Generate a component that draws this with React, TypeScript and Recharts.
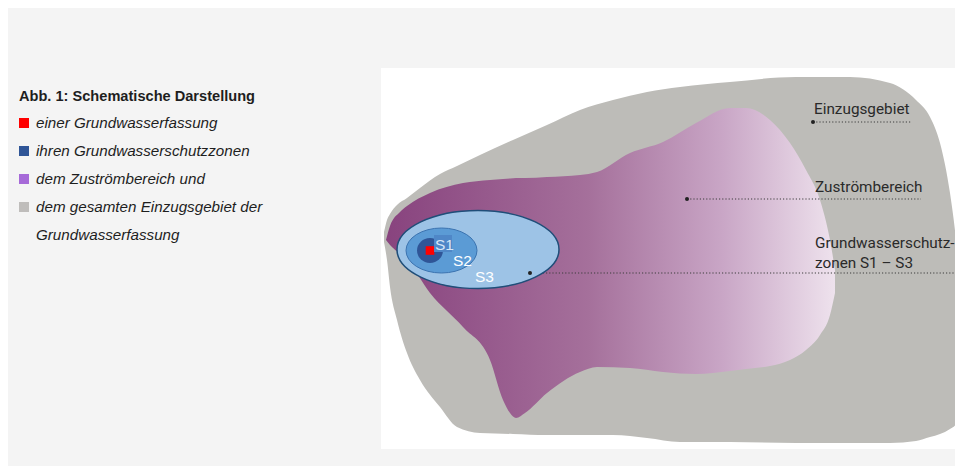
import React from "react";
import {
  ComposedChart,
  Area,
  Scatter,
  XAxis,
  YAxis,
  ReferenceLine,
  ReferenceDot,
} from "recharts";

// schematic units, 1 unit = 10px in the panel, y grows downwards
const UNIT = 10;

// Einzugsgebiet (grey outline)
const einzugX = [0.3, 0.6, 0.9, 1.6, 2.6, 3.9, 5.9, 7.6, 9.9, 13.2, 16.6, 19.9, 23.2, 26.6, 29.9, 34.9, 41.5, 46.9, 50.9, 53.5, 54.9, 55.9, 56.9, 57.5, 58.0];
const einzugTop = [16.4, 15.2, 14.6, 13.7, 13.0, 12.0, 10.6, 9.8, 8.7, 7.2, 5.7, 4.2, 3.2, 2.4, 1.9, 1.4, 0.9, 0.9, 1.5, 3.2, 4.9, 7.5, 12.5, 17.2, 23.2];
const einzugBottom = [17.4, 19.2, 21.9, 25.2, 28.5, 31.2, 33.9, 35.9, 36.5, 36.6, 36.7, 36.7, 36.7, 37.0, 37.4, 37.4, 37.5, 37.5, 37.5, 37.3, 36.9, 36.6, 36.1, 35.6, 34.2];

// Zuströmbereich (purple)
const zustromX = [0.5, 0.9, 1.9, 2.6, 4.9, 8.2, 10.9, 12.2, 12.9, 13.5, 14.4, 16.6, 19.9, 21.6, 24.9, 28.2, 31.5, 34.9, 36.5, 38.9, 40.9, 42.5, 43.9, 44.9, 45.4];
const zustromTop = [17.2, 15.8, 14.4, 13.8, 12.5, 11.5, 11.2, 11.1, 11.05, 11.0, 11.0, 10.9, 10.7, 10.4, 8.5, 7.4, 5.5, 4.0, 4.0, 5.2, 7.5, 10.2, 13.2, 17.2, 20.2];
const zustromBottom = [17.2, 17.7, 18.6, 19.2, 22.5, 25.9, 29.2, 33.2, 34.5, 35.0, 34.5, 32.5, 30.4, 29.9, 30.0, 30.4, 30.6, 30.3, 30.1, 29.8, 29.2, 28.2, 26.7, 24.7, 22.5];

// Grundwasserschutzzonen
const zoneNames = ["S3", "S2", "S1"];
const zoneCx = [9.7, 6.05, 4.9];
const zoneCy = [18.15, 18.25, 18.25];
const zoneRx = [8.1, 3.55, 1.3];
const zoneRy = [3.9, 2.25, 1.25];
const zoneLabelX = [9.4, 7.2, 5.4];
const zoneLabelY = [21.4, 19.8, 18.2];

// Grundwasserfassung
const wellX = [4.9];
const wellY = [18.25];
const wellSide = 0.86;

// right side labels
const calloutLines = [["Einzugsgebiet"], ["Zuströmbereich"], ["Grundwasserschutz-", "zonen S1 – S3"]];
const calloutFrom = [43.2, 30.6, 14.9];
const calloutTo = [53.0, 54.0, 58.2];
const calloutY = [5.4, 13.1, 20.5];
const calloutTextX = [43.3, 43.4, 43.4];
const calloutTextY = [4.6, 12.4, 18.0];

const legendItems = [
  { color: "#ff0000", text: "einer Grundwasserfassung" },
  { color: "#2f5597", text: "ihren Grundwasserschutzzonen" },
  { color: "#a66ad8", text: "dem Zuströmbereich und" },
  { color: "#bfbdbb", text: "dem gesamten Einzugsgebiet der" },
  { color: "", text: "Grundwasserfassung" },
];

const zoneStyle: Record<string, any> = {
  S3: { fill: "#9dc3e6", stroke: "#1f4e79", strokeWidth: 1.5 },
  S2: { fill: "#5b9bd5", stroke: "#3b73b0", strokeWidth: 1 },
  S1: { fill: "#2f5597", stroke: "none", strokeWidth: 0 },
};

const einzugData = einzugX.map((x, i) => ({ x, range: [einzugTop[i], einzugBottom[i]] }));
const zustromData = zustromX.map((x, i) => ({ x, range: [zustromTop[i], zustromBottom[i]] }));
const zoneData = zoneNames.map((name, i) => ({
  name,
  x: zoneCx[i],
  y: zoneCy[i],
  rx: zoneRx[i],
  ry: zoneRy[i],
}));
const wellData = wellX.map((x, i) => ({ x, y: wellY[i] }));

const ZoneShape = (props: any) => {
  const { cx, cy, payload } = props;
  const st = zoneStyle[payload.name];
  return <ellipse cx={cx} cy={cy} rx={payload.rx * UNIT} ry={payload.ry * UNIT} {...st} />;
};

const WellShape = (props: any) => {
  const s = wellSide * UNIT;
  return <rect x={props.cx - s / 2} y={props.cy - s / 2} width={s} height={s} fill="#ff0000" />;
};

const labelFont = "Roboto, 'DejaVu Sans', sans-serif";

export default function App() {
  return (
    <div style={{ position: "relative", width: 955, height: 458, background: "#f4f4f4", fontFamily: "'Liberation Sans', Arial, sans-serif", color: "#1e1e1e" }}>
      <div style={{ position: "absolute", left: 11, top: 78, fontWeight: "bold", fontSize: 14.6, lineHeight: "20px", whiteSpace: "nowrap" }}>
        Abb. 1: Schematische Darstellung
      </div>
      {legendItems.map((item, i) => (
        <div key={i} style={{ position: "absolute", left: 11, top: 105 + i * 28, height: 20, whiteSpace: "nowrap" }}>
          {item.color && (
            <span style={{ position: "absolute", left: 0, top: 5, width: 10, height: 10, background: item.color }} />
          )}
          <span style={{ position: "absolute", left: 17, top: 0, fontStyle: "italic", fontSize: 15.2, lineHeight: "20px" }}>
            {item.text}
          </span>
        </div>
      ))}

      <div style={{ position: "absolute", left: 373, top: 60, width: 582, height: 381, background: "#ffffff" }}>
        <ComposedChart width={582} height={381} margin={{ top: 0, right: 0, bottom: 0, left: 0 }}>
          <defs>
            <linearGradient id="zustrom" x1="0" y1="0" x2="1" y2="0">
              <stop offset="0%" stopColor="#88437e" />
              <stop offset="45%" stopColor="#a5709b" />
              <stop offset="75%" stopColor="#c9a6c6" />
              <stop offset="100%" stopColor="#eee2ed" />
            </linearGradient>
          </defs>
          <XAxis type="number" dataKey="x" domain={[0, 58.2]} hide allowDataOverflow />
          <YAxis type="number" domain={[0, 38.1]} reversed hide allowDataOverflow />
          <Area
            data={einzugData}
            dataKey="range"
            type="monotone"
            fill="#bdbcb8"
            fillOpacity={1}
            stroke="none"
            isAnimationActive={false}
            activeDot={false}
          />
          <Area
            data={zustromData}
            dataKey="range"
            type="monotone"
            fill="url(#zustrom)"
            fillOpacity={1}
            stroke="none"
            isAnimationActive={false}
            activeDot={false}
          />
          <Scatter data={zoneData} dataKey="y" shape={ZoneShape} isAnimationActive={false} />
          <Scatter data={wellData} dataKey="y" shape={WellShape} isAnimationActive={false} />
          <ReferenceDot
            x={5.3}
            y={16.7}
            r={0}
            shape={(p: any) => <rect x={p.cx} y={p.cy} width={18} height={17} fill="#4f87c7" />}
          />
          {zoneNames.map((name, i) => (
            <ReferenceDot
              key={name}
              x={zoneLabelX[i]}
              y={zoneLabelY[i]}
              r={0}
              shape={(p: any) => (
                <text x={p.cx} y={p.cy} fill={name === "S1" ? "#d6e6f6" : "#ffffff"} fontSize={15.5} fontFamily="'Liberation Sans', Arial, sans-serif">
                  {name}
                </text>
              )}
            />
          ))}
          {calloutLines.map((lines, i) => (
            <ReferenceLine
              key={"l" + i}
              segment={[
                { x: calloutFrom[i], y: calloutY[i] },
                { x: calloutTo[i], y: calloutY[i] },
              ]}
              stroke="#3c3c3c"
              strokeWidth={1}
              strokeDasharray="1.2 2"
              ifOverflow="visible"
            />
          ))}
          {calloutLines.map((lines, i) => (
            <ReferenceDot key={"d" + i} x={calloutFrom[i]} y={calloutY[i]} r={2} fill="#222" stroke="none" />
          ))}
          {calloutLines.map((lines, i) => (
            <ReferenceDot
              key={"t" + i}
              x={calloutTextX[i]}
              y={calloutTextY[i]}
              r={0}
              shape={(p: any) => (
                <text x={p.cx} y={p.cy} fill="#2a2a2a" fontSize={15.3} fontFamily={labelFont}>
                  {lines.map((ln, j) => (
                    <tspan key={j} x={p.cx} dy={j === 0 ? 0 : 20}>
                      {ln}
                    </tspan>
                  ))}
                </text>
              )}
            />
          ))}
        </ComposedChart>
      </div>
    </div>
  );
}
